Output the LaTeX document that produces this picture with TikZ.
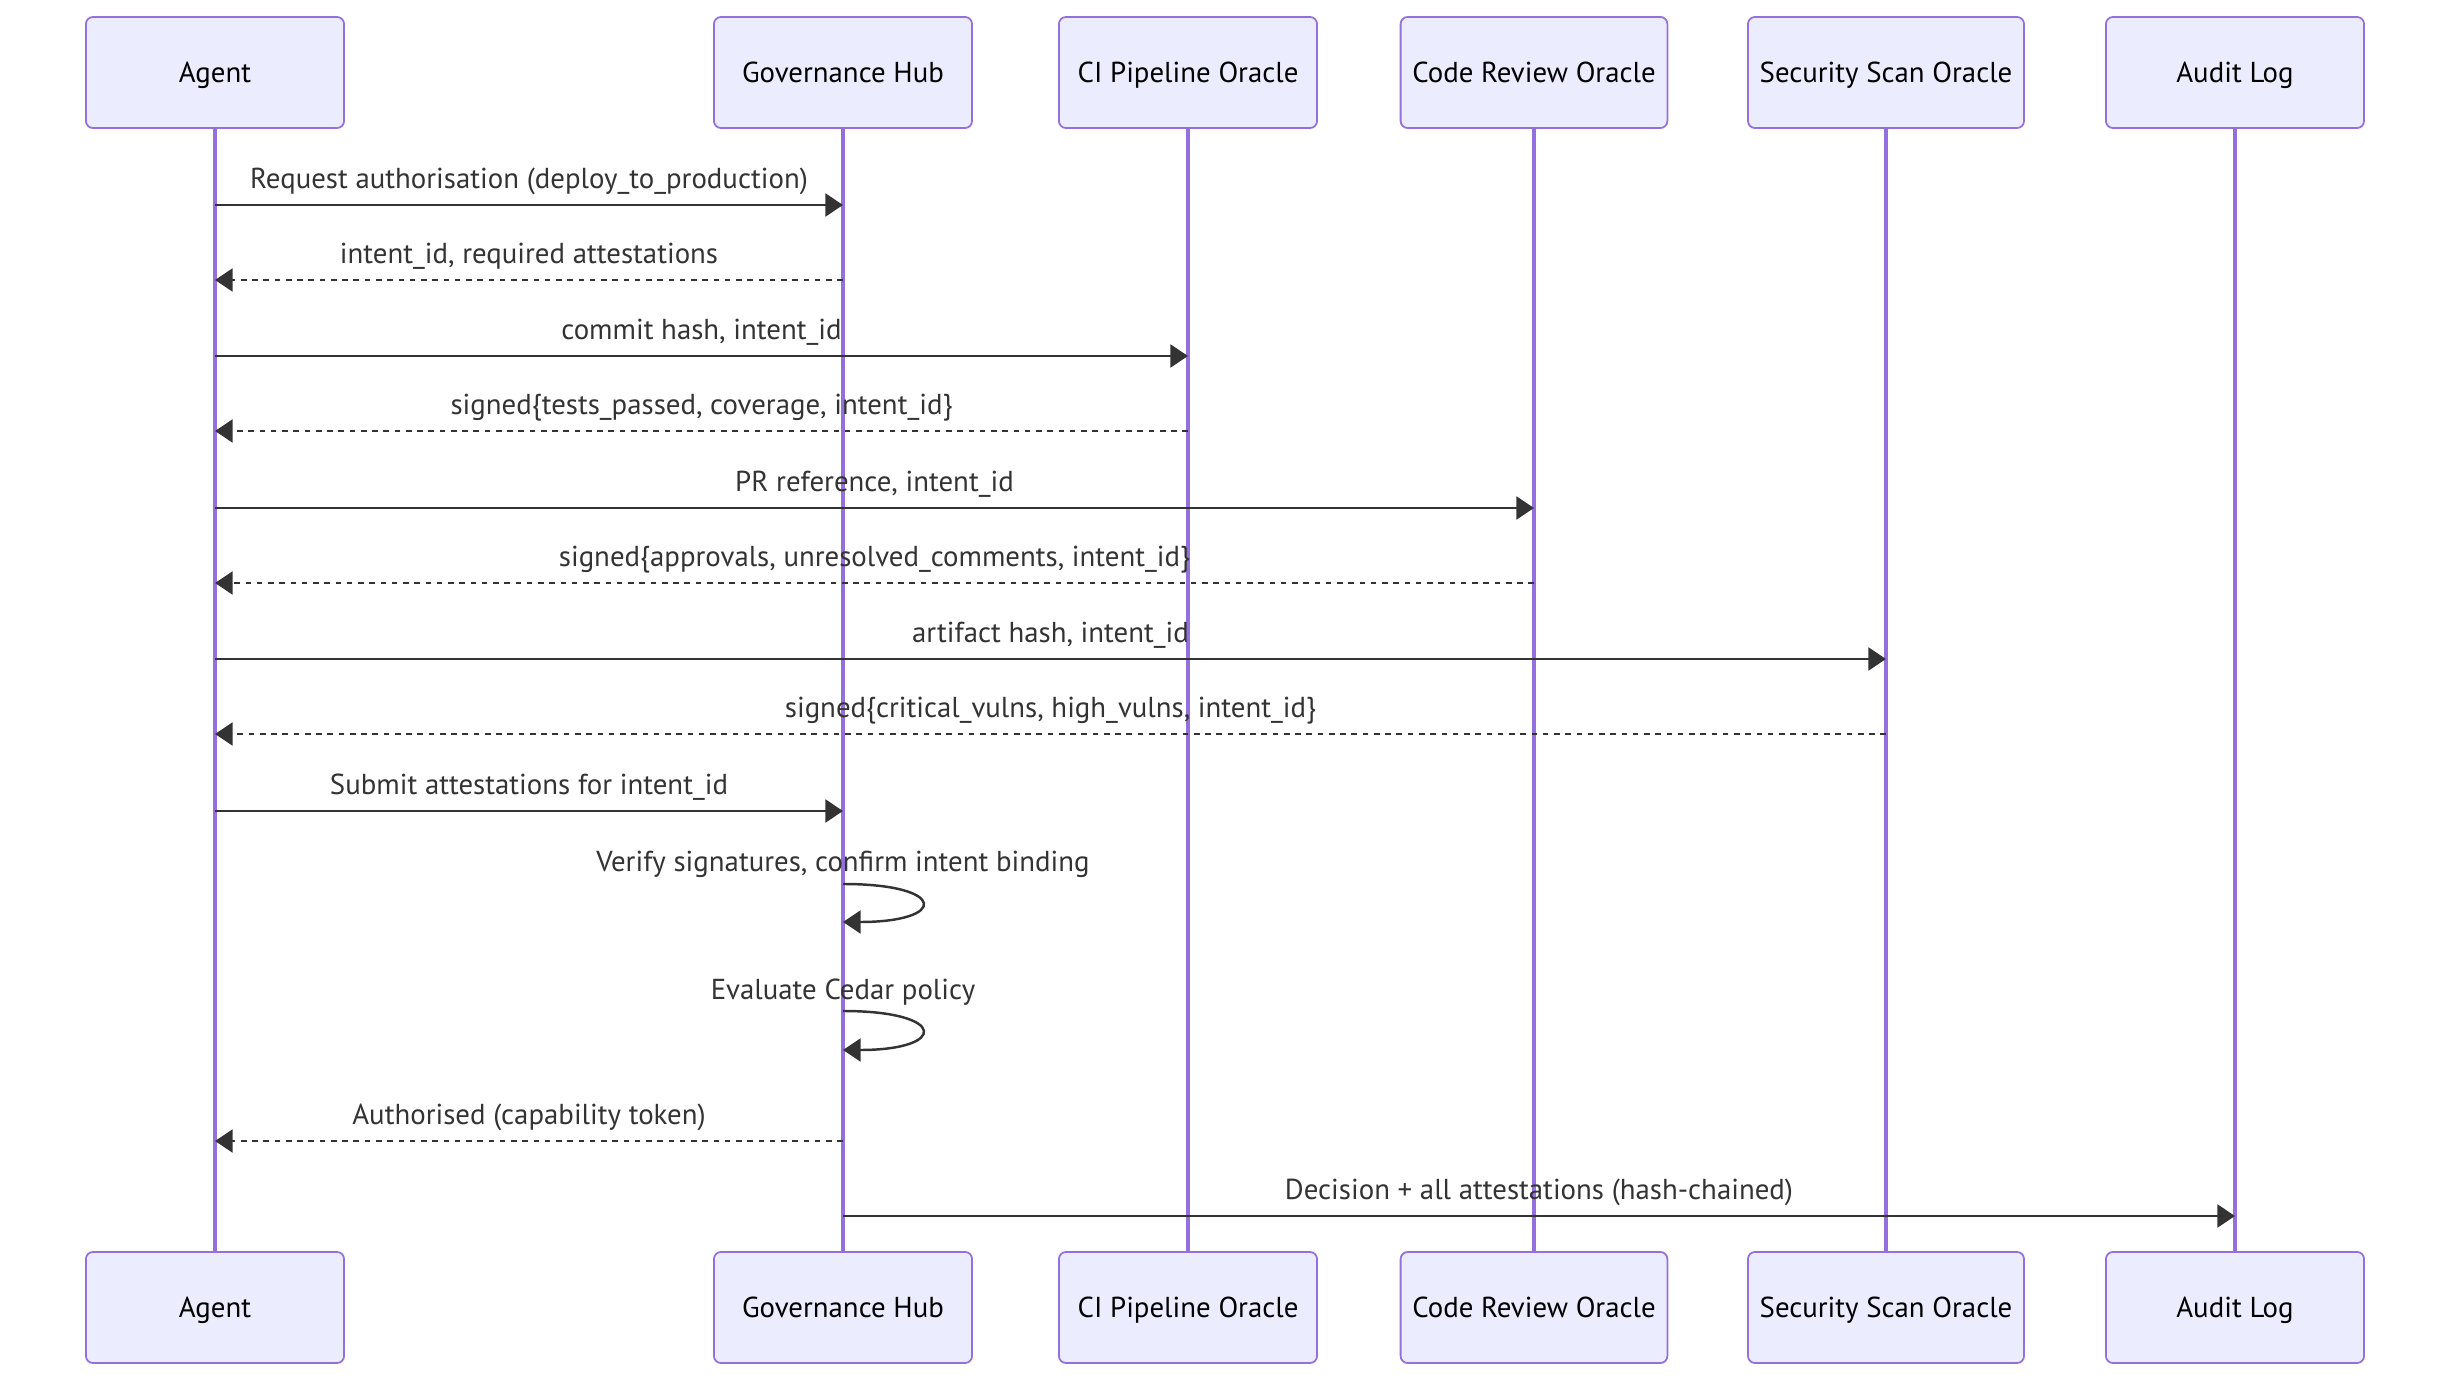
\documentclass[tikz,border=0pt]{standalone}
\usepackage{fontspec}
\setmainfont{PT Sans}
\usepackage{tikz}
\usetikzlibrary{arrows.meta,positioning,calc}
\definecolor{SeqPurple}{RGB}{147,112,219}
\definecolor{SeqLilac}{RGB}{236,236,255}
\definecolor{SeqDark}{RGB}{51,51,51}
\newcommand{\seqfont}{\fontsize{8.2pt}{9.8pt}\selectfont}
\begin{document}
\begin{tikzpicture}[
  x=0.01cm,y=-0.01cm,
  actor/.style={rounded corners=2pt,draw=SeqPurple,fill=SeqLilac,line width=0.5pt,
                minimum width=2.58cm,minimum height=1.11cm,font=\seqfont,
                text height=1.6ex,text depth=.45ex},
  life/.style={draw=SeqPurple,line width=1.1pt},
  msg/.style={draw=SeqDark,line width=0.7pt,-{Triangle[length=5pt,width=6.5pt]}},
  reply/.style={msg,dash pattern=on 1.6pt off 1.6pt},
  lbl/.style={font=\seqfont,text=SeqDark,inner sep=0pt,text height=1.6ex,text depth=.45ex}
]
\useasboundingbox (0,0) rectangle (2450,1382);
% actors, top and bottom
\node[actor] (ag)  at (215,72.5)  {Agent};
\node[actor] (gov) at (843,72.5)  {Governance Hub};
\node[actor] (ci)  at (1188,72.5) {CI Pipeline Oracle};
\node[actor,minimum width=2.63cm] (cr)  at (1534,72.5) {Code Review Oracle};
\node[actor,minimum width=2.66cm] (sec) at (1886,72.5) {Security Scan Oracle};
\node[actor] (aud) at (2235,72.5) {Audit Log};
\node[actor] (agB)  at (215,1307.5)  {Agent};
\node[actor] (govB) at (843,1307.5)  {Governance Hub};
\node[actor] (ciB)  at (1188,1307.5) {CI Pipeline Oracle};
\node[actor,minimum width=2.63cm] (crB)  at (1534,1307.5) {Code Review Oracle};
\node[actor,minimum width=2.66cm] (secB) at (1886,1307.5) {Security Scan Oracle};
\node[actor] (audB) at (2235,1307.5) {Audit Log};
\foreach \a in {ag,gov,ci,cr,sec,aud}
  \draw[life] (\a.south) -- (\a B.north);
% messages
\draw[msg]   (ag |- 0,205) -- node[lbl,above=2pt] {Request authorisation (deploy\_to\_production)} (gov |- 0,205);
\draw[reply] (gov |- 0,280) -- node[lbl,above=2pt] {intent\_id, required attestations} (ag |- 0,280);
\draw[msg]   (ag |- 0,356) -- node[lbl,above=2pt] {commit hash, intent\_id} (ci |- 0,356);
\draw[reply] (ci |- 0,431) -- node[lbl,above=2pt] {signed\{tests\_passed, coverage, intent\_id\}} (ag |- 0,431);
\draw[msg]   (ag |- 0,508) -- node[lbl,above=2pt] {PR reference, intent\_id} (cr |- 0,508);
\draw[reply] (cr |- 0,583) -- node[lbl,above=2pt] {signed\{approvals, unresolved\_comments, intent\_id\}} (ag |- 0,583);
\draw[msg]   (ag |- 0,659) -- node[lbl,above=2pt] {artifact hash, intent\_id} (sec |- 0,659);
\draw[reply] (sec |- 0,734) -- node[lbl,above=2pt] {signed\{critical\_vulns, high\_vulns, intent\_id\}} (ag |- 0,734);
\draw[msg]   (ag |- 0,811) -- node[lbl,above=2pt] {Submit attestations for intent\_id} (gov |- 0,811);
\node[lbl] (chk) at (gov |- 0,861) {Verify signatures, confirm intent binding};
\draw[msg] (gov |- 0,884) .. controls +(105,0) and +(105,0) .. (gov |- 0,922);
\node[lbl] (pol) at (gov |- 0,989) {Evaluate Cedar policy};
\draw[msg] (gov |- 0,1011) .. controls +(105,0) and +(105,0) .. (gov |- 0,1050);
\draw[reply] (gov |- 0,1141) -- node[lbl,above=2pt] {Authorised (capability token)} (ag |- 0,1141);
\draw[msg]   (gov |- 0,1216) -- node[lbl,above=2pt] {Decision + all attestations (hash-chained)} (aud |- 0,1216);
\end{tikzpicture}
\end{document}
